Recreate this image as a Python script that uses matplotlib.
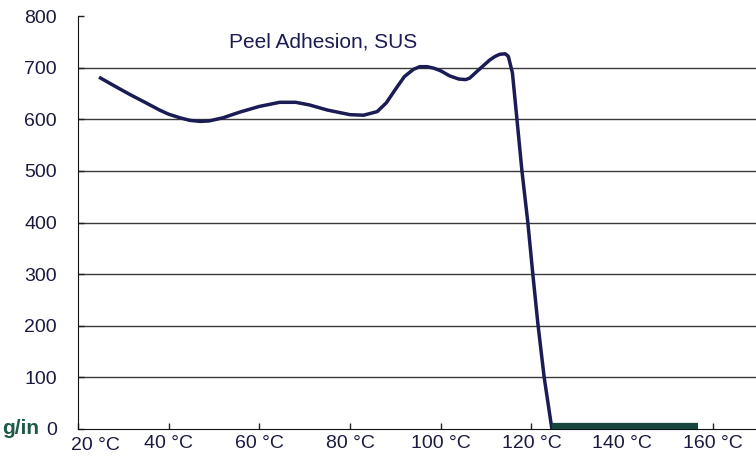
import matplotlib
matplotlib.use("Agg")
import matplotlib.pyplot as plt
from matplotlib.transforms import ScaledTranslation

# Peel adhesion on SUS vs temperature
temps = [25, 28, 31.5, 35, 38, 40, 42.5, 44.7, 47, 49, 52, 55.7, 60, 64.5, 68, 71, 75, 80, 83,
         86, 88, 90, 92, 94, 95.4, 97, 98.5, 100, 102, 104, 105.5, 106.4, 108.5, 110.8, 112,
         113, 114.2, 114.9, 115.8, 116.8, 117.9, 119.2, 120.3, 121.4, 122.8, 124.5]
adhesion = [680, 665, 648, 632, 618, 610, 603, 598, 596, 597, 603, 614, 625, 633, 633, 628, 618, 609, 608,
            615, 632, 658, 683, 697, 702, 702, 699, 694, 684, 678, 677, 680, 697, 715, 722,
            726, 727, 722, 690, 600, 500, 400, 300, 205, 100, 0]

# flat region after failure (no measurable adhesion)
fail_temps = [124.5, 156.7]
fail_vals = [5, 5]

xtick_vals = [20, 40, 60, 80, 100, 120, 140, 160]
xtick_labels = ["20 °C", "40 °C", "60 °C", "80 °C", "100 °C", "120 °C", "140 °C", "160 °C"]
ytick_vals = [0, 100, 200, 300, 400, 500, 600, 700, 800]
grid_vals = [100, 200, 300, 400, 500, 600, 700]

navy = "#1b1b55"
label_col = "#1a1a40"
fonts = ["Liberation Sans", "DejaVu Sans"]

fig = plt.figure(figsize=(7.56, 4.74), dpi=100)
ax = fig.add_axes([0.103, 0.095, 0.897, 0.871])

for g in grid_vals:
    ax.axhline(g, color="#3a3a3a", lw=1.0, zorder=1)

ax.plot(temps, adhesion, color=navy, lw=2.5, solid_joinstyle="round", zorder=3)
ax.plot(fail_temps, fail_vals, color="#17463f", lw=4.5, solid_capstyle="butt", zorder=3)

ax.set_xlim(20, 169.5)
ax.set_ylim(0, 800)
ax.set_xticks(xtick_vals)
ax.set_xticklabels(xtick_labels)
ax.set_yticks(ytick_vals)
ax.tick_params(axis="both", direction="in", length=4, width=1, colors="#222222",
               labelcolor=label_col, labelsize=14)
ax.tick_params(axis="x", pad=4)
ax.tick_params(axis="y", pad=15)
for lab in ax.get_xticklabels() + ax.get_yticklabels():
    lab.set_fontfamily(fonts)
# first label sits right of its tick, next to the unit
first = ax.get_xticklabels()[0]
first.set_transform(first.get_transform() + ScaledTranslation(13 / 72, -2 / 72, fig.dpi_scale_trans))

for s in ["top", "right"]:
    ax.spines[s].set_visible(False)
ax.spines["left"].set_color("#111111")
ax.spines["bottom"].set_color("#111111")

ax.text(74, 750, "Peel Adhesion, SUS", ha="center", va="center", fontsize=15,
        color=navy, family=fonts)
fig.text(0.003, 0.097, "g/in", ha="left", va="center", fontsize=15,
         color="#1d5a48", fontweight="bold", family=fonts)

fig.savefig("out.png", dpi=100)
